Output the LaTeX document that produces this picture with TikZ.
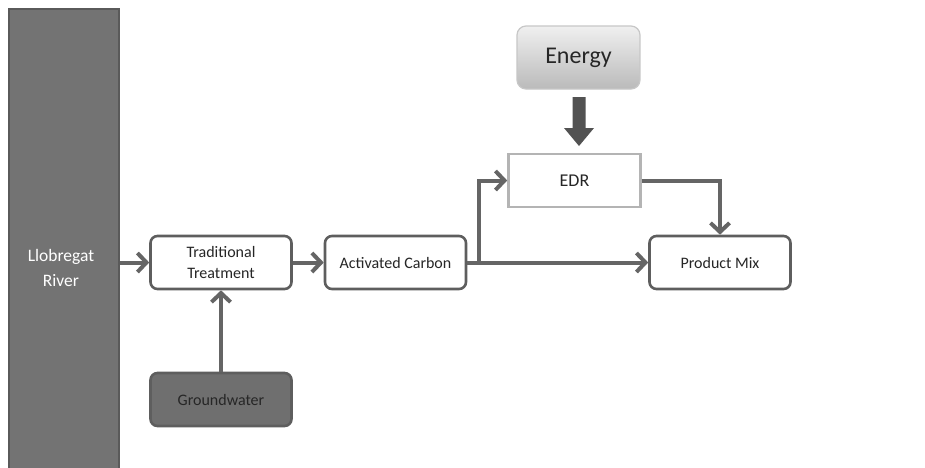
\documentclass[tikz,border=0pt]{standalone}
\usepackage{fontspec}
\setmainfont{Carlito}
\usetikzlibrary{arrows.meta}
\definecolor{linec}{HTML}{656565}
\definecolor{boxline}{HTML}{5E5E5E}
\definecolor{riverfill}{HTML}{737373}
\definecolor{riverline}{HTML}{5A5A5A}
\definecolor{gwfill}{HTML}{6F6F6F}
\definecolor{edrline}{HTML}{B4B4B4}
\definecolor{txt}{HTML}{262626}
\tikzset{
  procbox/.style={draw=boxline, line width=2.6pt, rounded corners=7pt, fill=white,
    minimum width=141pt, minimum height=53pt, inner sep=0pt, align=center,
    font=\fontsize{16}{21}\selectfont, text=txt},
  gwbox/.style={procbox, fill=gwfill, text=black!85},
  edrbox/.style={draw=edrline, line width=2.6pt, fill=white, minimum width=132pt,
    minimum height=53pt, inner sep=0pt, font=\fontsize{18}{21}\selectfont, text=txt},
  energybox/.style={draw=black!22, line width=1.2pt, rounded corners=9pt,
    top color=black!6, bottom color=black!27, minimum width=123pt, minimum height=63pt,
    inner sep=0pt, font=\fontsize{24}{28}\selectfont, text=txt},
  riverbar/.style={draw=riverline, line width=2pt, fill=riverfill, minimum width=110pt,
    minimum height=480pt, inner sep=0pt, anchor=north west},
  rivertext/.style={text=white, align=center, font=\fontsize{17.5}{25.5}\selectfont},
  arr/.style={draw=linec, line width=4pt, -{Straight Barb[length=9pt,width=19pt]}},
  blockarrow/.style={fill=black!68, draw=none}
}
\begin{document}
\begin{tikzpicture}[x=1pt,y=-1pt]
\useasboundingbox (0,0) rectangle (925,467);
\fill[white] (0,0) rectangle (925,467);
\begin{scope}
\clip (0,0) rectangle (925,467);
\node[riverbar] (river) at (8,8) {};
\end{scope}
\node[rivertext] (rivl) at (61,268) {Llobregat\\River};

\node[procbox] (tt) at (221,262.5) {Traditional\\Treatment};
\node[procbox] (ac) at (395.5,262.5) {Activated Carbon};
\node[procbox] (pm) at (720,262.5) {Product Mix};
\node[gwbox] (gw) at (221,399.5) {Groundwater};
\node[edrbox] (edr) at (574.5,180.5) {EDR};
\node[energybox] (en) at (578.5,57.5) {Energy};

% connectors
\draw[arr] (river.east |- tt.west) -- (tt.west);
\draw[arr] (tt.east) -- (ac.west);
\draw[arr] (ac.east) -- (pm.west);
\coordinate (br) at (479,262.5);
\draw[arr] (br) |- (edr.west);
\draw[arr] (edr.east) -| (pm.north);
\draw[arr] (gw.north) -- (tt.south);

% block arrow from Energy to EDR
\fill[blockarrow] (572.5,97) -- (585.5,97) -- (585.5,128) -- (594,128) -- (579,146) -- (564,128) -- (572.5,128) -- cycle;
\end{tikzpicture}
\end{document}
